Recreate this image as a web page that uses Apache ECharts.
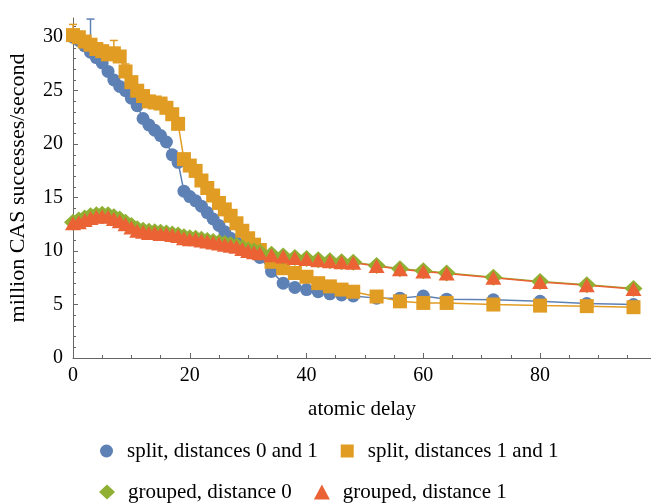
<!DOCTYPE html>
<html>
<head>
<meta charset="utf-8">
<script src="https://cdn.jsdelivr.net/npm/echarts@6/dist/echarts.min.js"></script>
<style>
  html, body { margin: 0; padding: 0; background: #fff; }
  #main { width: 651px; height: 504px; }
</style>
</head>
<body>
<div id="main"></div>
<script>
// atomic delay values (x)
const delays = [0, 1, 2, 3, 4, 5, 6, 7, 8, 9, 10, 11, 12, 13, 14, 15, 16, 17, 18, 19, 20,
  21, 22, 23, 24, 25, 26, 27, 28, 29, 30, 31, 32, 34, 36, 38, 40, 42, 44, 46, 48,
  52, 56, 60, 64, 72, 80, 88, 96];

// million CAS successes/second
const splitD01 = [30.0, 29.7, 29.2, 28.6, 28.1, 27.6, 26.8, 26.0, 25.4, 25.0, 24.3,
  23.6, 22.4, 21.8, 21.3, 20.8, 20.2, 19.0, 18.3, 15.6, 15.1,
  14.7, 14.2, 13.6, 13.0, 12.4, 11.8, 11.2, 10.8, 10.4, 10.1, 9.8, 9.4, 8.1, 7.0, 6.6, 6.4, 6.2, 6.0, 5.9, 5.8,
  5.6, 5.6, 5.8, 5.5, 5.45, 5.3, 5.1, 5.0];
const splitD11 = [30.2, 30.0, 29.6, 29.3, 28.9, 28.7, 28.4, 28.5, 28.2, 26.8, 25.8,
  25.0, 24.5, 24.0, 23.9, 23.8, 23.4, 22.8, 21.9, 18.6, 18.0,
  17.5, 16.6, 15.9, 15.2, 14.5, 13.9, 13.3, 12.6, 11.9, 11.2, 10.6, 10.1, 9.0, 8.4, 7.95, 7.6, 7.0, 6.7, 6.4, 6.2,
  5.75, 5.3, 5.15, 5.15, 5.0, 4.9, 4.85, 4.75];
const groupedD0 = [12.7, 12.9, 13.1, 13.3, 13.4, 13.45, 13.4, 13.2, 13.0, 12.7, 12.4,
  12.1, 11.95, 11.85, 11.8, 11.75, 11.7, 11.6, 11.5, 11.35, 11.25,
  11.2, 11.1, 11.0, 10.9, 10.8, 10.7, 10.6, 10.5, 10.3, 10.1, 10.0, 9.9, 9.7, 9.55, 9.4, 9.3, 9.2, 9.1, 9.0, 8.95,
  8.65, 8.35, 8.15, 7.95, 7.55, 7.15, 6.85, 6.5];
const groupedD1 = [12.6, 12.7, 12.9, 13.1, 13.2, 13.25, 13.2, 13.0, 12.8, 12.5, 12.2,
  11.9, 11.8, 11.7, 11.7, 11.6, 11.6, 11.5, 11.4, 11.2, 11.1,
  11.1, 11.0, 10.9, 10.8, 10.7, 10.6, 10.5, 10.4, 10.2, 10.0, 9.9, 9.8, 9.6, 9.5, 9.35, 9.25, 9.15, 9.05, 8.95, 8.9,
  8.6, 8.3, 8.1, 7.9, 7.5, 7.1, 6.8, 6.45];

// error bars: [delay, value, upper end]
const splitD01Err = [[3, 28.6, 31.7]];
const splitD11Err = [[0, 30.2, 31.2], [7, 28.5, 29.7], [9, 26.8, 27.5]];

// ticks
const xMajorTicks = [0, 20, 40, 60, 80];
const xMinorTicks = [5, 10, 15, 25, 30, 35, 45, 50, 55, 65, 70, 75, 85, 90, 95];
const yMajorTicks = [0, 5, 10, 15, 20, 25, 30];
const yMinorTicks = [1, 2, 3, 4, 6, 7, 8, 9, 11, 12, 13, 14, 16, 17, 18, 19, 21, 22, 23, 24, 26, 27, 28, 29, 31];

const names = ['split, distances 0 and 1', 'split, distances 1 and 1',
  'grouped, distance 0', 'grouped, distance 1'];
const colors = ['#5E81B5', '#E19C24', '#8FB032', '#EB6235'];

const font = 'Liberation Serif';
const axisColor = '#666';

function pairs(ys) {
  return delays.map((d, i) => [d, ys[i]]);
}

function errorBar(color) {
  return function (params, api) {
    const p = api.coord([api.value(0), api.value(1)]);
    const t = api.coord([api.value(0), api.value(2)]);
    return {
      type: 'group',
      children: [
        { type: 'line', shape: { x1: p[0], y1: p[1], x2: t[0], y2: t[1] }, style: { stroke: color, lineWidth: 1.5 } },
        { type: 'line', shape: { x1: t[0] - 4, y1: t[1], x2: t[0] + 4, y2: t[1] }, style: { stroke: color, lineWidth: 1.5 } }
      ]
    };
  };
}

const chart = echarts.init(document.getElementById('main'));

chart.setOption({
  animation: false,
  backgroundColor: '#fff',
  grid: { left: 73, right: 0, top: 18, bottom: 146, containLabel: false, outerBoundsMode: 'none' },
  legend: [
    {
      left: 95, top: 435, itemWidth: 13, itemHeight: 13, itemGap: 23,
      textStyle: { fontFamily: font, fontSize: 21, lineHeight: 22, color: '#000', padding: [0, 0, 0, 9] },
      data: [{ name: names[0], icon: 'circle' }, { name: names[1], icon: 'rect' }]
    },
    {
      left: 94, top: 476, itemWidth: 16, itemHeight: 15, itemGap: 22,
      textStyle: { fontFamily: font, fontSize: 21, lineHeight: 22, color: '#000', padding: [0, 0, 0, 8] },
      data: [{ name: names[2], icon: 'diamond' }, { name: names[3], icon: 'triangle' }]
    }
  ],
  xAxis: [
    {
      type: 'value', min: 0, max: 99, position: 'bottom',
      name: 'atomic delay', nameLocation: 'middle', nameGap: 41,
      nameTextStyle: { fontFamily: font, fontSize: 21, color: '#000' },
      axisLine: { onZero: false, lineStyle: { color: axisColor, width: 1 } },
      axisTick: { inside: true, length: 5, lineStyle: { color: axisColor }, customValues: xMajorTicks },
      axisLabel: { fontFamily: font, fontSize: 20, color: '#000', margin: 8, customValues: xMajorTicks },
      splitLine: { show: false }
    },
    {
      type: 'value', min: 0, max: 99, position: 'bottom',
      axisLine: { show: false },
      axisTick: { inside: true, length: 3, lineStyle: { color: axisColor }, customValues: xMinorTicks },
      axisLabel: { show: false },
      splitLine: { show: false }
    }
  ],
  yAxis: [
    {
      type: 'value', min: 0, max: 31.8, position: 'left',
      name: 'million CAS successes/second', nameLocation: 'middle', nameGap: 44,
      nameTextStyle: { fontFamily: font, fontSize: 22, color: '#000' },
      axisLine: { show: true, onZero: false, lineStyle: { color: axisColor, width: 1 } },
      axisTick: { show: true, inside: true, length: 5, lineStyle: { color: axisColor }, customValues: yMajorTicks },
      axisLabel: { fontFamily: font, fontSize: 20, color: '#000', margin: 10, customValues: yMajorTicks },
      splitLine: { show: false }
    },
    {
      type: 'value', min: 0, max: 31.8, position: 'left',
      axisLine: { show: false },
      axisTick: { show: true, inside: true, length: 3, lineStyle: { color: axisColor }, customValues: yMinorTicks },
      axisLabel: { show: false },
      splitLine: { show: false }
    }
  ],
  series: [
    {
      name: names[0], type: 'line', data: pairs(splitD01),
      symbol: 'circle', symbolSize: 13,
      itemStyle: { color: colors[0] }, lineStyle: { color: colors[0], width: 1.5 }
    },
    {
      type: 'custom', renderItem: errorBar(colors[0]), data: splitD01Err, silent: true
    },
    {
      name: names[1], type: 'line', data: pairs(splitD11),
      symbol: 'rect', symbolSize: 14,
      itemStyle: { color: colors[1] }, lineStyle: { color: colors[1], width: 1.5 }
    },
    {
      type: 'custom', renderItem: errorBar(colors[1]), data: splitD11Err, silent: true
    },
    {
      name: names[2], type: 'line', data: pairs(groupedD0),
      symbol: 'diamond', symbolSize: [18, 17],
      itemStyle: { color: colors[2] }, lineStyle: { color: colors[2], width: 1.5 }
    },
    {
      name: names[3], type: 'line', data: pairs(groupedD1),
      symbol: 'triangle', symbolSize: [16, 14],
      itemStyle: { color: colors[3] }, lineStyle: { color: colors[3], width: 1.5 }
    }
  ]
});
</script>
</body>
</html>
